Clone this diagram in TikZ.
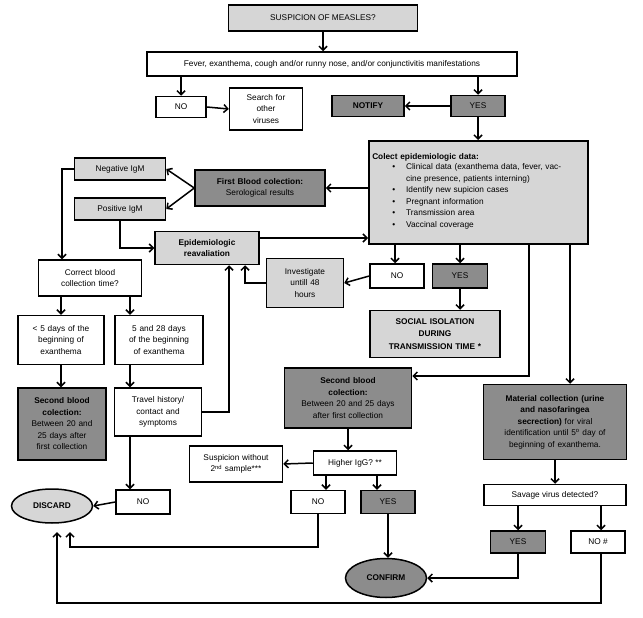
\documentclass[tikz,border=0pt]{standalone}
\usepackage{fontspec}
\setmainfont{Liberation Sans}
\usetikzlibrary{arrows.meta,shapes.geometric}
\definecolor{lg}{HTML}{D6D6D6}
\definecolor{dg}{HTML}{8C8C8C}
\begin{document}
\begin{tikzpicture}[x=1pt,y=-1pt,
  every node/.style={font=\fontsize{8.3}{11.5}\selectfont},
  box/.style={draw,line width=1.5pt,fill=white,align=center,inner sep=1pt},
  L/.style={box,fill=lg},
  D/.style={box,fill=dg},
  el/.style={draw,line width=1.5pt,ellipse,inner sep=0pt,font=\fontsize{8.3}{10}\selectfont\bfseries},
  arr/.style={line width=1.5pt,-{Straight Barb[length=4pt,width=8pt]}},
  ln/.style={line width=1.5pt}]
\useasboundingbox (0,0) rectangle (643,618);
% nodes
\node[L,minimum width=189,minimum height=26] (susp) at (323,18) {SUSPICION OF MEASLES?};
\node[box,minimum width=370,minimum height=24] (fever) at (332,64) {Fever, exanthema, cough and/or runny nose, and/or conjunctivitis manifestations};
\node[box,minimum width=50,minimum height=21] (no1) at (181,107) {NO};
\node[box,minimum width=73,minimum height=42,text width=70] (search) at (266,109) {Search for\\other\\viruses};
\node[D,minimum width=72,minimum height=21,font=\fontsize{8.3}{11.5}\selectfont\bfseries] (notify) at (368,106) {NOTIFY};
\node[D,minimum width=54,minimum height=21] (yes1) at (478,106) {YES};
\node[L,minimum width=219,minimum height=103,text width=212,align=left,anchor=north west,inner sep=3pt] (collect) at (368,140) {%
\textbf{Colect epidemiologic data:}\\[-1pt]
\begin{tabular}{@{\hspace{20pt}}c@{\hspace{11pt}}p{162pt}@{}}
\textbullet & Clinical data (exanthema data, fever, vaccine presence, patients interning)\\
\textbullet & Identify new supicion cases\\
\textbullet & Pregnant information\\
\textbullet & Transmission area\\
\textbullet & Vaccinal coverage
\end{tabular}};
\node[D,minimum width=130,minimum height=36,text width=126] (first) at (260,188) {\textbf{First Blood colection:}\\Serological results};
\node[L,minimum width=91,minimum height=22] (neg) at (120,169) {Negative IgM};
\node[L,minimum width=91,minimum height=22] (pos) at (120,209) {Positive IgM};
\node[L,minimum width=104,minimum height=33,text width=100,font=\fontsize{8.3}{11.5}\selectfont\bfseries] (epi) at (207,248) {Epidemiologic\\reavaliation};
\node[box,minimum width=103,minimum height=36,text width=98] (correct) at (90,278) {Correct blood\\collection time?};
\node[box,minimum width=86,minimum height=49,text width=84] (less5) at (61,340) {< 5 days of the\\beginning of\\exanthema};
\node[box,minimum width=88,minimum height=49,text width=86] (five28) at (159,340) {5 and 28 days\\of the beginning\\of exanthema};
\node[D,minimum width=88,minimum height=72,text width=86] (second1) at (62,424) {\textbf{Second blood}\\\textbf{colection:}\\Between 20 and\\25 days after\\first collection};
\node[box,minimum width=87,minimum height=48,text width=84] (travel) at (158,412) {Travel history/\\contact and\\symptoms};
\node[L,minimum width=77,minimum height=49,text width=74] (inv) at (305,283) {Investigate\\untill 48\\hours};
\node[box,minimum width=54,minimum height=24] (no2) at (397,276) {NO};
\node[D,minimum width=55,minimum height=24] (yes2) at (460,276) {YES};
\node[L,minimum width=130,minimum height=47,text width=126,font=\fontsize{8.3}{12.5}\selectfont\bfseries] (social) at (435,334) {SOCIAL ISOLATION\\DURING\\TRANSMISSION TIME *};
\node[D,minimum width=127,minimum height=60,text width=124] (second2) at (348,398) {\textbf{Second blood}\\\textbf{colection:}\\Between 20 and 25 days\\after first collection};
\node[box,minimum width=83,minimum height=24] (higher) at (355,463) {Higher IgG? **};
\node[box,minimum width=93,minimum height=36,text width=90] (susp2) at (236,464) {Suspicion without\\2\textsuperscript{nd} sample***};
\node[box,minimum width=54,minimum height=23] (no3) at (318,502) {NO};
\node[D,minimum width=54,minimum height=23] (yes3) at (388,502) {YES};
\node[el,fill=dg,minimum width=81,minimum height=39] (confirm) at (386,578) {CONFIRM};
\node[D,minimum width=143,minimum height=75,text width=140] (material) at (555,422) {\textbf{Material collection (urine}\\\textbf{and nasofaringea}\\\textbf{secrection)} for viral\\identification until 5\textsuperscript{o} day of\\beginning of exanthema.};
\node[box,minimum width=142,minimum height=21] (savage) at (555,495) {Savage virus detected?};
\node[D,minimum width=55,minimum height=22] (yes4) at (518,542) {YES};
\node[box,minimum width=54,minimum height=22] (no4) at (598,542) {NO \#};
\node[el,fill=lg,minimum width=81,minimum height=34] (discard) at (52,506) {DISCARD};
\node[box,minimum width=54,minimum height=24] (no5) at (143,502) {NO};
% helper coordinates
\coordinate (xa) at (62,0); \coordinate (xb) at (130,0); \coordinate (xc) at (229,0);
\coordinate (xd) at (245,0); \coordinate (xe) at (395,0); \coordinate (xf) at (460,0);
\coordinate (xg) at (529,0); \coordinate (xh) at (570,0); \coordinate (xi) at (326,0);
\coordinate (xj) at (377,0); \coordinate (xk) at (518,0); \coordinate (xl) at (601,0);
\coordinate (xm) at (70,0); \coordinate (xn) at (57,0);
\coordinate (y1) at (0,376); \coordinate (y2) at (0,547); \coordinate (y3) at (0,603); \coordinate (y4) at (0,532);
% connectors
\draw[arr] (susp.south) -- (susp.south |- fever.north);
\draw[arr] (no1.north |- fever.south) -- (no1.north);
\draw[arr] (no1.east) -- (search.west);
\draw[arr] (yes1.north |- fever.south) -- (yes1.north);
\draw[arr] (yes1.west) -- (notify.east);
\draw[arr] (yes1.south) -- (yes1.south |- collect.north);
\draw[arr] (collect.west |- first.east) -- (first.east);
\draw[arr] (first.west) -- (neg.east);
\draw[arr] (first.west) -- (pos.east);
\draw[arr] (neg.west) -| (xa |- correct.north);
\draw[arr] (pos.south) |- (epi.west);
\draw[arr] ([yshift=10pt]epi.east) -- ([yshift=10pt]epi.east -| collect.west);
\draw[arr] (less5.north |- correct.south) -- (less5.north);
\draw[arr] (xb |- correct.south) -- (xb |- five28.north);
\draw[arr] (less5.south) -- (less5.south |- second1.north);
\draw[arr] (xb |- five28.south) -- (xb |- travel.north);
\draw[arr] (xb |- travel.south) -- (xb |- no5.north);
\draw[arr] (no5.west) -- (discard.east);
\draw[arr] (travel.east) -| (xc |- epi.south);
\draw[arr] (inv.west) -| (xd |- epi.south);
\draw[arr] (no2.west) -- (inv.east);
\draw[arr] (xe |- collect.south) -- (xe |- no2.north);
\draw[arr] (xf |- collect.south) -- (xf |- yes2.north);
\draw[arr] (xf |- yes2.south) -- (xf |- social.north);
\draw[arr] (xg |- collect.south) -- (xg |- y1) -- (second2.east |- y1);
\draw[arr] (xh |- collect.south) -- (xh |- material.north);
\draw[arr] (second2.south) -- (second2.south |- higher.north);
\draw[arr] (higher.west) -- (susp2.east);
\draw[arr] (xi |- higher.south) -- (xi |- no3.north);
\draw[arr] (xj |- higher.south) -- (xj |- yes3.north);
\draw[arr] (yes3.south) -- (yes3.south |- confirm.north);
\draw[arr] (no3.south) -- (no3.south |- y2) -- (xm |- y2) -- (xm |- y4);
\draw[arr] (material.south) -- (material.south |- savage.north);
\draw[arr] (xk |- savage.south) -- (xk |- yes4.north);
\draw[arr] (xl |- savage.south) -- (xl |- no4.north);
\draw[arr] (yes4.south) -- (yes4.south |- confirm.east) -- (confirm.east);
\draw[arr] (xl |- no4.south) -- (xl |- y3) -- (xn |- y3) -- (xn |- y4);
\end{tikzpicture}
\end{document}
